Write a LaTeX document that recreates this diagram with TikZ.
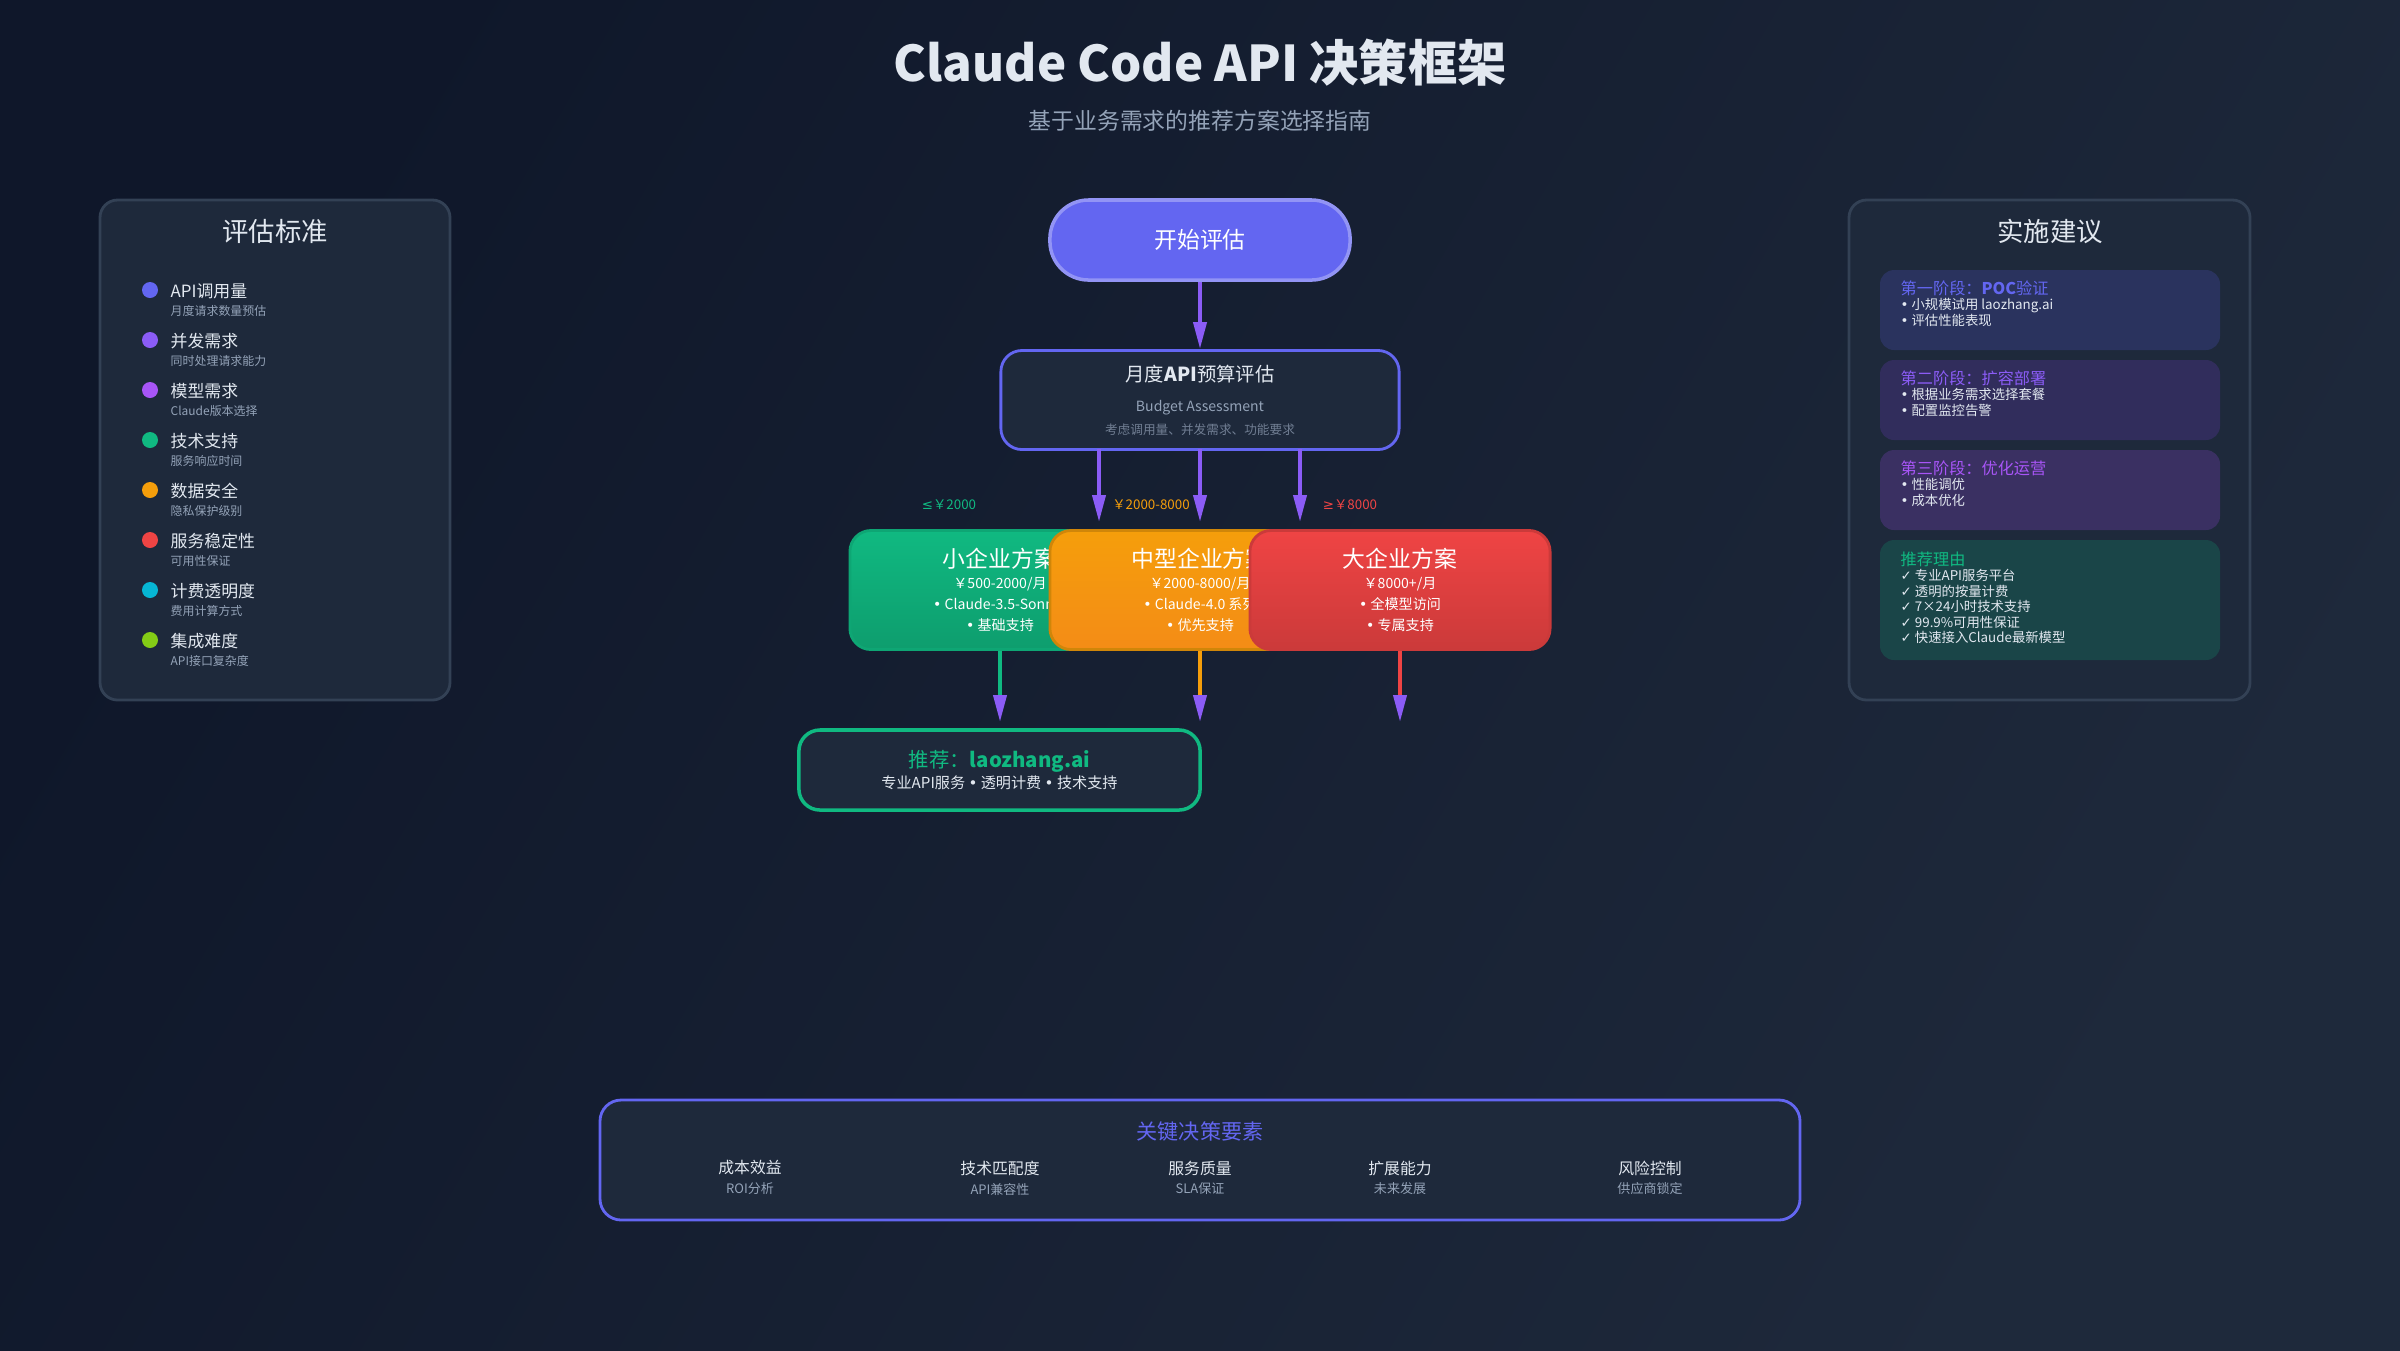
\documentclass[tikz,border=0pt]{standalone}
\usepackage{fontspec}
\setmainfont{Noto Sans CJK SC}
\newfontfamily\dvfont{DejaVu Sans}
\newcommand{\bul}{{\dvfont •}}
\newcommand{\chk}{{\dvfont ✓}}
\usetikzlibrary{arrows.meta}
\usetikzlibrary{positioning}
\definecolor{bgA}{HTML}{0F172A}
\definecolor{bgB}{HTML}{1E293B}
\definecolor{panel}{HTML}{1E293B}
\definecolor{panelline}{HTML}{334155}
\definecolor{indigo}{HTML}{6366F1}
\definecolor{violet}{HTML}{8B5CF6}
\definecolor{purple}{HTML}{A855F7}
\definecolor{green}{HTML}{10B981}
\definecolor{orange}{HTML}{F59E0B}
\definecolor{red}{HTML}{EF4444}
\definecolor{cyan}{HTML}{06B6D4}
\definecolor{lime}{HTML}{84CC16}
\definecolor{txt}{HTML}{E2E8F0}
\definecolor{subtxt}{HTML}{94A3B8}
\definecolor{cardA}{HTML}{2A335E}
\definecolor{cardB}{HTML}{312D5C}
\definecolor{cardC}{HTML}{3A3062}
\definecolor{cardD}{HTML}{1A4548}
\begin{document}
\begin{tikzpicture}[x=0.01cm,y=-0.01cm,
  panelbox/.style={draw=panelline, fill=panel, line width=0.8pt, rounded corners=5pt},
  planbox/.style={rounded corners=6pt, minimum width=3cm, minimum height=1.19cm, line width=0.8pt, text=white, align=center, font=\fontsize{4}{6}\selectfont},
  flow/.style={line width=1.1pt, -{Triangle[length=2.7mm,width=1.3mm,color=violet]}},
  phase/.style={anchor=north west, align=left, inner sep=0, text=txt, font=\fontsize{3.8}{4.4}\selectfont}]
  % Hintergrund
  \shade[left color=bgA, right color=bgB, shading angle=60] (0,0) rectangle (2400,1350);
  \useasboundingbox (0,0) rectangle (2400,1350);

  % Titel
  \node[text=txt, font=\fontsize{14}{16}\selectfont\bfseries] (title) at (1200,63) {Claude Code API 决策框架};
  \node[text=subtxt, font=\fontsize{6.5}{8}\selectfont] (subtitle) at (1200,121) {基于业务需求的推荐方案选择指南};

  %% PANEL KIRI (KRITERIA) %%
  \draw[panelbox] (100,200) rectangle (450,700);
  \node[text=txt, font=\fontsize{7.5}{9}\selectfont] (crit) at (275,231) {评估标准};
  \foreach \c/\t/\s [count=\i from 0] in {indigo/API调用量/月度请求数量预估, violet/并发需求/同时处理请求能力,
      purple/模型需求/Claude版本选择, green/技术支持/服务响应时间, orange/数据安全/隐私保护级别,
      red/服务稳定性/可用性保证, cyan/计费透明度/费用计算方式, lime/集成难度/API接口复杂度}{
    \fill[\c] (150,{290+50*\i}) circle (8);
    \node[anchor=west, text=txt, font=\fontsize{4.8}{6}\selectfont, inner sep=0] (crit\i) at (170,{291+50*\i}) {\t};
    \node[anchor=west, text=subtxt, font=\fontsize{3.4}{4}\selectfont, inner sep=0] (critsub\i) at (170,{311+50*\i}) {\s};
  }

  %% PANEL KANAN (SARAN) %%
  \draw[panelbox] (1849,200) rectangle (2250,700);
  \node[text=txt, font=\fontsize{7.5}{9}\selectfont] (impl) at (2050,231) {实施建议};
  \fill[cardA, rounded corners=4pt] (1880,270) rectangle (2220,350);
  \fill[cardB, rounded corners=4pt] (1880,360) rectangle (2220,440);
  \fill[cardC, rounded corners=4pt] (1880,450) rectangle (2220,530);
  \fill[cardD, rounded corners=4pt] (1880,540) rectangle (2220,660);
  \node[phase] (phase1) at (1900,280)
    {{\fontsize{4.6}{6}\selectfont\color{indigo}第一阶段：\textbf{POC}验证}\\\bul\ 小规模试用 laozhang.ai\\\bul\ 评估性能表现};
  \node[phase] (phase2) at (1900,370)
    {{\fontsize{4.6}{6}\selectfont\color{violet}第二阶段：扩容部署}\\\bul\ 根据业务需求选择套餐\\\bul\ 配置监控告警};
  \node[phase] (phase3) at (1900,460)
    {{\fontsize{4.6}{6}\selectfont\color{purple}第三阶段：优化运营}\\\bul\ 性能调优\\\bul\ 成本优化};
  \node[phase] (reason) at (1900,551)
    {{\fontsize{4.6}{6}\selectfont\color{green}推荐理由}\\\chk\ 专业API服务平台\\\chk\ 透明的按量计费\\\chk\ 7×24小时技术支持\\\chk\ 99.9\%可用性保证\\\chk\ 快速接入Claude最新模型};

  %% ALUR TENGAH %%
  \node[fill=indigo, draw=indigo!70!white, line width=1pt, rounded corners=11pt, minimum width=3cm, minimum height=0.8cm,
    text=white, font=\fontsize{6.5}{8}\selectfont] (start) at (1200,240) {开始评估};
  \node[fill=panel, draw=indigo, line width=0.8pt, rounded corners=6pt, minimum width=3.98cm, minimum height=0.99cm,
    align=center, text=txt, font=\fontsize{5.5}{7}\selectfont] (budget) at (1200,400)
    {月度\textbf{API}预算评估\\[1.5pt]{\fontsize{4}{5}\selectfont\color{subtxt}Budget Assessment}\\[-0.5pt]{\fontsize{3.6}{5}\selectfont\color{subtxt!70!bgB}考虑调用量、并发需求、功能要求}};
  \draw[flow, violet] (start) -- (budget);

  % Cabang anggaran
  \coordinate (b1) at (1099,449);
  \coordinate (b2) at (1200,449);
  \coordinate (b3) at (1300,449);
  \coordinate (e1) at (1099,522);
  \coordinate (e2) at (1200,522);
  \coordinate (e3) at (1300,522);
  \draw[flow, violet] (b1) -- (e1);
  \draw[flow, violet] (b2) -- (e2);
  \draw[flow, violet] (b3) -- (e3);
  \node[text=green, font=\fontsize{3.8}{5}\selectfont] (lo) at (949,505) {{\dvfont ≤}￥2000};
  \node[text=orange, font=\fontsize{3.8}{5}\selectfont] (mid) at (1151,505) {￥2000-8000};
  \node[text=red, font=\fontsize{3.8}{5}\selectfont] (hi) at (1350,505) {{\dvfont ≥}￥8000};

  % Kotak rencana (saling tumpang)
  \node[planbox, top color=green, bottom color=green!85!black, draw=green!90!black] (small) at (1000,590)
    {{\fontsize{6.5}{8}\selectfont 小企业方案}\\￥500-2000/月\\\bul\ Claude-3.5-Sonnet\\\bul\ 基础支持};
  \node[planbox, top color=orange, bottom color=orange!80!red, draw=orange!85!black] (medium) at (1200,590)
    {{\fontsize{6.5}{8}\selectfont 中型企业方案}\\￥2000-8000/月\\\bul\ Claude-4.0 系列\\\bul\ 优先支持};
  \node[planbox, top color=red, bottom color=red!85!black, draw=red!85!black] (large) at (1400,590)
    {{\fontsize{6.5}{8}\selectfont 大企业方案}\\￥8000+/月\\\bul\ 全模型访问\\\bul\ 专属支持};

  % Panah ke rekomendasi
  \coordinate (r1) at (1000,722);
  \coordinate (r2) at (1200,722);
  \coordinate (r3) at (1400,722);
  \draw[flow, green] (small.south) -- (r1);
  \draw[flow, orange] (medium.south) -- (r2);
  \draw[flow, red] (large.south) -- (r3);

  \node[fill=panel, draw=green, line width=1pt, rounded corners=6pt, minimum width=4.01cm, minimum height=0.8cm,
    align=center, text=txt, font=\fontsize{4.3}{6}\selectfont] (rec) at (999.5,770)
    {{\fontsize{5.8}{7}\selectfont\color{green}推荐：\textbf{laozhang.ai}}\\专业API服务 \bul\ 透明计费 \bul\ 技术支持};

  %% KOTAK BAWAH (FAKTOR KUNCI) %%
  \draw[fill=panel, draw=indigo, line width=0.8pt, rounded corners=6pt] (600,1100) rectangle (1800,1220);
  \node[text=indigo, font=\fontsize{6}{7}\selectfont] (key) at (1200,1131) {关键决策要素};
  \foreach \x/\t/\s [count=\i] in {750/成本效益/ROI分析, 1000/技术匹配度/API兼容性, 1200/服务质量/SLA保证,
      1400/扩展能力/未来发展, 1650/风险控制/供应商锁定}{
    \node[text=txt, font=\fontsize{4.5}{6}\selectfont] (key\i) at (\x,1168) {\t};
    \node[text=subtxt, font=\fontsize{3.7}{5}\selectfont] (keysub\i) at (\x,1189) {\s};
  }
\end{tikzpicture}
\end{document}
